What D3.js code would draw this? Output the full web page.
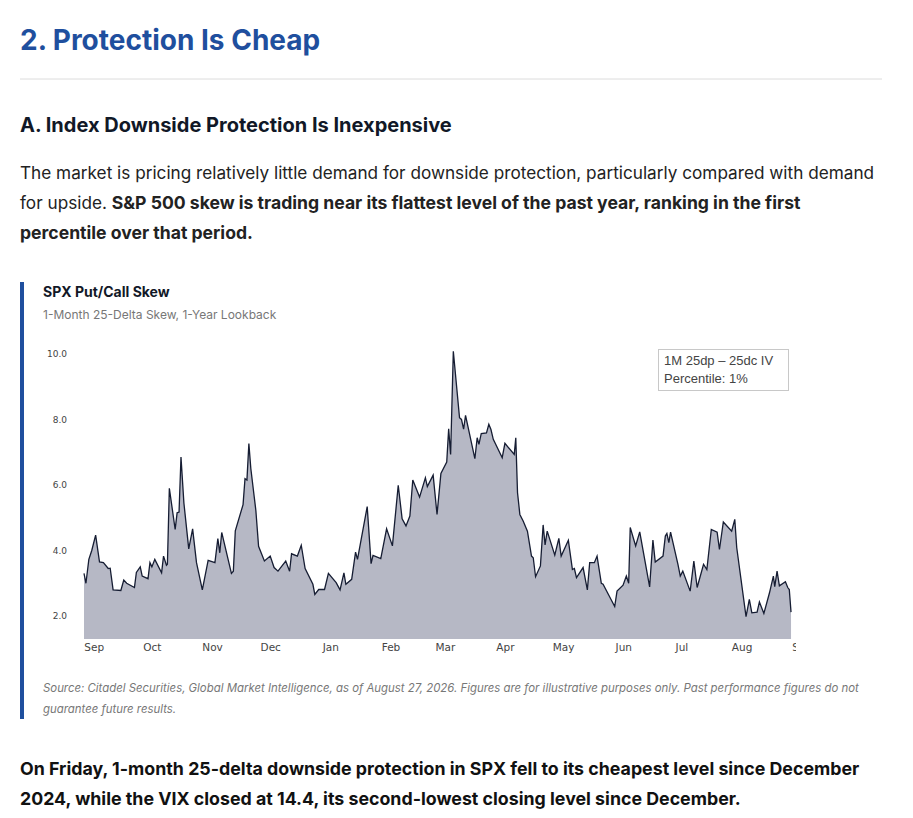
<!DOCTYPE html>
<html><head><meta charset="utf-8">
<script src="https://cdn.jsdelivr.net/npm/d3@7"></script>
<style>body{margin:0;background:#fff}</style></head>
<body><svg id="c" width="913" height="818"></svg>
<script>
const startDate = new Date(2025, 7, 27);
const dayOffsets = [0,1,2.5,4,6,8,10,12.5,13.5,15,19,20.5,22,26,27,29,30,33,34,35,36.5,40,41,42.5,43,44,47,48,49,50,51.5,54,56,58,61,64,67.5,69,70,71,76,77,78,82,83,84,85,86,88.6,90,93,96,98,100,104,106,107,110,112,114,118,119,121,124,126,130,132,134,135,138,140,141,146,148,149,153,156,159,162,164,166,168,169.5,173,176,177,180,182,184,187,188,189,190.4,193.6,194.6,195.7,196.7,201.5,202.7,203.6,204.8,207.5,208.7,209.8,211,215.6,217,221.8,222.6,223.5,224.7,226.4,228.6,230.7,231.6,232.8,235.3,236.7,237.7,238.8,242.7,244.8,246,249.7,251.8,252.8,253.9,257.3,259.5,260.7,263.1,264.5,266.7,267.6,273.6,274.8,277.9,279.6,280.8,281.6,284.4,286.5,291.6,293.3,294.5,298.5,299.7,300.5,301.5,302.4,306.2,307.4,308.7,312.5,314.4,316.1,319.4,321.1,323.4,326.4,327.6,329.6,333.9,335.5,336.5,341.3,343,344.3,347,348.2,350.5,353.4,355.4,356.1,357.3,358.5,361.6,362.8,363.6,364.5];
const skewValues = [3.30,3.0,3.73,4.0,4.47,3.65,3.63,3.45,3.46,2.8,2.78,3.1,3.0,2.87,3.33,3.5,3.22,3.14,3.63,3.5,3.73,3.32,3.83,3.55,3.58,5.9,4.64,5.15,5.17,6.85,5.45,4.05,4.66,3.63,2.8,3.7,3.63,4.36,3.93,4.55,3.3,3.37,4.6,5.4,6.19,6.15,7.26,6.5,5.22,4.13,3.68,3.83,3.48,3.37,3.68,3.37,3.9,3.83,4.16,3.45,2.97,2.66,2.81,2.81,3.3,3.02,2.8,3.32,2.97,3.12,3.95,3.73,5.34,3.6,3.85,3.75,4.66,4.14,5.99,4.97,4.75,5.05,6.15,5.63,6.22,5.95,6.3,5.1,6.35,6.7,7.71,6.93,10.08,8.05,8.0,7.7,8.12,6.8,7.44,7.24,7.57,7.59,7.85,7.69,7.39,6.83,7.27,6.93,7.44,5.76,5.1,4.9,4.59,3.83,3.78,3.2,3.53,4.78,4.17,4.59,3.86,4.37,3.83,4.31,3.42,3.45,3.17,3.48,2.8,3.63,3.63,3.83,3.0,2.97,2.29,2.76,2.94,3.22,3.0,4.7,4.14,4.57,2.89,4.32,3.65,3.83,4.44,4.52,4.24,4.56,3.58,3.22,3.37,2.76,3.68,2.87,3.58,3.42,4.64,4.56,4.03,4.87,4.59,4.95,4.09,1.98,2.51,2.1,2.12,2.43,2.08,2.71,3.22,2.9,3.37,2.92,3.05,2.87,2.81,2.12];
const yTicks = [2,4,6,8,10];
const monthLabels = ["Sep","Oct","Nov","Dec","Jan","Feb","Mar","Apr","May","Jun","Jul","Aug","Sep"];

const svg = d3.select("#c");
const F = "Inter, 'Noto Sans', sans-serif";
const txt = (x,y,s,o)=>svg.append("text").attr("x",x).attr("y",y).text(s)
  .attr("font-family",o.ff||F).attr("font-size",o.fs).attr("font-weight",o.fw||400)
  .attr("fill",o.c||"#1a1a1a").attr("font-style",o.it?"italic":null);

txt(20,50,"2. Protection Is Cheap",{fs:28,fw:700,c:"#1f4f9e"});
svg.append("line").attr("x1",20).attr("x2",882).attr("y1",79).attr("y2",79).attr("stroke","#dcdcdc");
txt(20,132,"A. Index Downside Protection Is Inexpensive",{fs:20,fw:700,c:"#111827"});
txt(20,179,"The market is pricing relatively little demand for downside protection, particularly compared with demand",{fs:17.2,c:"#222"});
const p2 = txt(20,209,"for upside. ",{fs:17.2,c:"#222"});
p2.append("tspan").attr("font-weight",700).attr("font-size",17.6).text("S&P 500 skew is trading near its flattest level of the past year, ranking in the first");
txt(20,239,"percentile over that period.",{fs:17.6,fw:700,c:"#222"});

svg.append("rect").attr("x",20).attr("y",282).attr("width",4).attr("height",437).attr("fill","#1f4f9e");
txt(43,297,"SPX Put/Call Skew",{fs:14,fw:700,c:"#111827"});
txt(43,319,"1-Month 25-Delta Skew, 1-Year Lookback",{fs:12,c:"#777"});

const x = d3.scaleTime().domain([startDate, d3.timeDay.offset(startDate,365)]).range([84,792]);
const y = d3.scaleLinear().domain([1.3,10.3]).range([639,344]);
const data = dayOffsets.map((d,i)=>({d:new Date(startDate.getTime()+d*864e5), v:skewValues[i]}));

svg.append("path").datum(data).attr("fill","#b6b8c5")
  .attr("d",d3.area().x(d=>x(d.d)).y0(y.range()[0]).y1(d=>y(d.v)));
svg.append("path").datum(data).attr("fill","none").attr("stroke","#161d33").attr("stroke-width",1.3)
  .attr("d",d3.line().x(d=>x(d.d)).y(d=>y(d.v)));

const yAx = svg.append("g").attr("transform","translate(70,0)")
  .call(d3.axisLeft(y).tickValues(yTicks).tickFormat(d3.format(".1f")).tickSize(0));
yAx.select(".domain").remove();
yAx.selectAll("text").attr("font-family","'DejaVu Sans', sans-serif").attr("font-size",9).attr("fill","#444").attr("text-anchor","end");

svg.append("clipPath").attr("id","xc").append("rect").attr("x",60).attr("y",630).attr("width",736).attr("height",30);
const months = d3.timeMonth.range(new Date(2025,8,1), new Date(2026,8,2));
const xAx = svg.append("g").attr("clip-path","url(#xc)").append("g").attr("transform","translate(0,641)")
  .call(d3.axisBottom(x).tickValues(months).tickFormat((d,i)=>monthLabels[i]).tickSize(0));
xAx.select(".domain").remove();
xAx.selectAll("text").attr("font-family","'DejaVu Sans', sans-serif").attr("font-size",10.5).attr("fill","#444");

svg.append("rect").attr("x",658.5).attr("y",349.5).attr("width",130).attr("height",41).attr("fill","#fff").attr("stroke","#c8c8c8");
txt(664,365,"1M 25dp – 25dc IV",{fs:13,c:"#444",ff:"'Liberation Sans', Arial, sans-serif"});
txt(664,383,"Percentile: 1%",{fs:13,c:"#444",ff:"'Liberation Sans', Arial, sans-serif"});

txt(43,692,"Source: Citadel Securities, Global Market Intelligence, as of August 27, 2026. Figures are for illustrative purposes only. Past performance figures do not",{fs:11.4,c:"#777",it:true});
txt(43,713,"guarantee future results.",{fs:11.4,c:"#777",it:true});

txt(20,775,"On Friday, 1-month 25-delta downside protection in SPX fell to its cheapest level since December",{fs:17.8,fw:700,c:"#111"});
txt(20,805,"2024, while the VIX closed at 14.4, its second-lowest closing level since December.",{fs:17.8,fw:700,c:"#111"});
</script></body></html>
